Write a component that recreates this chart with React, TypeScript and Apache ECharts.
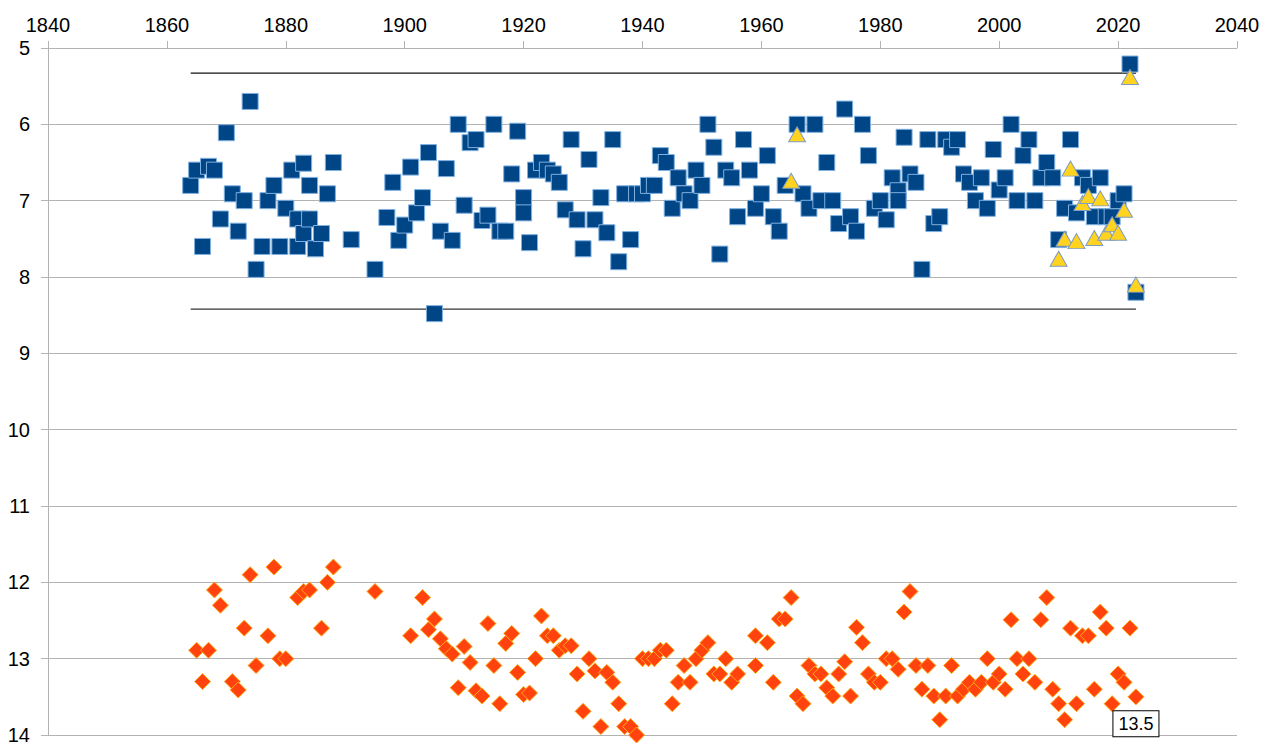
import React, { useEffect, useRef } from "react";
import * as echarts from "echarts";

// Axis ticks
const xMin = 1840;
const xMax = 2040;
const xStep = 20;
const yMin = 5;
const yMax = 14;
const yStep = 1;

// Blue squares
const blueYears = [
  1864, 1865, 1866, 1867, 1868, 1869, 1870, 1871, 1872, 1873, 1874, 1875, 1876, 1877, 1878, 1879,
  1880, 1881, 1882, 1882, 1883, 1883, 1884, 1884, 1885, 1886, 1887, 1888, 1891, 1895, 1897, 1898,
  1899, 1900, 1901, 1902, 1903, 1904, 1905, 1906, 1907, 1908, 1909, 1910, 1911, 1912, 1913, 1914,
  1915, 1916, 1917, 1918, 1919, 1920, 1920, 1921, 1922, 1923, 1924, 1925, 1926, 1927, 1928, 1929,
  1930, 1931, 1932, 1933, 1934, 1935, 1936, 1937, 1938, 1939, 1940, 1941, 1942, 1943, 1944, 1945,
  1946, 1947, 1948, 1949, 1950, 1951, 1952, 1953, 1954, 1955, 1956, 1957, 1958, 1959, 1960, 1961,
  1962, 1963, 1964, 1966, 1967, 1968, 1969, 1970, 1971, 1972, 1973, 1974, 1975, 1976, 1977, 1978,
  1979, 1980, 1981, 1982, 1983, 1983, 1984, 1985, 1986, 1987, 1988, 1989, 1990, 1991, 1992, 1993,
  1994, 1995, 1996, 1997, 1998, 1999, 2000, 2001, 2002, 2003, 2004, 2005, 2006, 2007, 2008, 2009,
  2010, 2011, 2012, 2013, 2014, 2015, 2016, 2017, 2018, 2019, 2020, 2021, 2022, 2023,
];
const blueValues = [
  6.8, 6.6, 7.6, 6.55, 6.6, 7.24, 6.11, 6.91, 7.4, 7.0, 5.7, 7.9, 7.6, 7.0, 6.8, 7.6,
  7.1, 6.6, 7.24, 7.6, 6.51, 7.43, 6.8, 7.24, 7.63, 7.43, 6.91, 6.5, 7.51, 7.9, 7.22, 6.76,
  7.52, 7.32, 6.56, 7.16, 6.96, 6.37, 8.48, 7.4, 6.58, 7.52, 6.0, 7.06, 6.24, 6.2, 7.26, 7.19,
  6.0, 7.4, 7.4, 6.65, 6.09, 6.96, 7.16, 7.55, 6.6, 6.5, 6.6, 6.65, 6.76, 7.12, 6.2, 7.25,
  7.63, 6.46, 7.25, 6.96, 7.42, 6.2, 7.8, 6.91, 7.51, 6.91, 6.91, 6.8, 6.8, 6.41, 6.5, 7.1,
  6.7, 6.91, 7.0, 6.6, 6.8, 6.0, 6.3, 7.7, 6.6, 6.7, 7.21, 6.2, 6.6, 7.1, 6.91, 6.41,
  7.21, 7.4, 6.8, 6.0, 6.91, 7.1, 6.0, 7.0, 6.5, 7.0, 7.3, 5.8, 7.21, 7.4, 6.0, 6.41,
  7.1, 7.0, 7.25, 6.7, 6.87, 7.0, 6.17, 6.65, 6.76, 7.9, 6.2, 7.3, 7.21, 6.2, 6.3, 6.2,
  6.65, 6.76, 7.0, 6.7, 7.1, 6.33, 6.86, 6.7, 6.0, 7.0, 6.41, 6.2, 7.0, 6.7, 6.5, 6.7,
  7.51, 7.1, 6.2, 7.16, 6.7, 6.8, 7.21, 6.7, 7.21, 7.21, 7.0, 6.91, 5.21, 8.2,
];

// Orange diamonds
const orangeYears = [
  1865, 1866, 1867, 1868, 1869, 1871, 1872, 1873, 1874, 1875, 1877, 1878, 1879, 1880, 1882, 1883,
  1884, 1886, 1887, 1888, 1895, 1901, 1903, 1904, 1905, 1906, 1907, 1908, 1909, 1910, 1911, 1912,
  1913, 1914, 1915, 1916, 1917, 1918, 1919, 1920, 1921, 1922, 1923, 1924, 1925, 1926, 1927, 1928,
  1929, 1930, 1931, 1932, 1933, 1934, 1935, 1936, 1937, 1938, 1939, 1940, 1941, 1942, 1943, 1944,
  1945, 1946, 1947, 1948, 1949, 1950, 1951, 1952, 1953, 1954, 1955, 1956, 1959, 1959, 1961, 1962,
  1963, 1964, 1965, 1966, 1967, 1968, 1969, 1970, 1971, 1972, 1973, 1974, 1975, 1976, 1977, 1978,
  1979, 1980, 1981, 1982, 1983, 1984, 1985, 1986, 1987, 1988, 1989, 1990, 1991, 1992, 1993, 1994,
  1995, 1996, 1997, 1998, 1999, 2000, 2001, 2002, 2003, 2004, 2005, 2006, 2007, 2008, 2009, 2010,
  2011, 2012, 2013, 2014, 2015, 2016, 2017, 2018, 2019, 2020, 2021, 2022, 2023,
];
const orangeValues = [
  12.89, 13.3, 12.89, 12.1, 12.3, 13.3, 13.41, 12.6, 11.9, 13.09, 12.7, 11.8, 13.0, 13.0, 12.2, 12.12,
  12.1, 12.6, 12.0, 11.8, 12.12, 12.7, 12.2, 12.62, 12.48, 12.74, 12.87, 12.94, 13.38, 12.84, 13.05, 13.42,
  13.49, 12.54, 13.09, 13.59, 12.8, 12.67, 13.18, 13.47, 13.45, 13.0, 12.44, 12.7, 12.7, 12.89, 12.83, 12.83,
  13.2, 13.69, 13.0, 13.16, 13.89, 13.18, 13.31, 13.59, 13.89, 13.89, 14.0, 13.0, 13.0, 13.0, 12.89, 12.89,
  13.59, 13.31, 13.09, 13.31, 13.0, 12.89, 12.79, 13.2, 13.2, 13.0, 13.31, 13.2, 12.7, 13.09, 12.79, 13.31,
  12.48, 12.48, 12.2, 13.49, 13.59, 13.09, 13.2, 13.2, 13.38, 13.49, 13.2, 13.04, 13.49, 12.59, 12.79, 13.2,
  13.31, 13.31, 13.0, 13.0, 13.14, 12.39, 12.12, 13.09, 13.4, 13.09, 13.49, 13.8, 13.49, 13.09, 13.49, 13.4,
  13.31, 13.4, 13.31, 13.0, 13.31, 13.2, 13.4, 12.49, 13.0, 13.2, 13.0, 13.31, 12.49, 12.2, 13.4, 13.59,
  13.8, 12.6, 13.59, 12.7, 12.7, 13.4, 12.39, 12.6, 13.59, 13.2, 13.31, 12.6, 13.5,
];

// Yellow triangles
const triYears = [1965, 1966, 2010, 2011, 2012, 2013, 2014, 2015, 2016, 2017, 2018, 2019, 2020, 2021, 2022, 2023];
const triValues = [6.74, 6.13, 7.76, 7.5, 6.58, 7.53, 7.03, 6.94, 7.49, 6.97, 7.42, 7.31, 7.42, 7.12, 5.38, 8.1];

// Reference lines
const refLineYears = [1864, 2023];
const upperLimit = 5.33;
const lowerLimit = 8.42;

// Labelled point
const labelledYear = 2023;

const FONT = "'Liberation Sans', Arial, sans-serif";

export default function App() {
  const ref = useRef<HTMLDivElement>(null);

  useEffect(() => {
    if (!ref.current) return;
    const chart = echarts.init(ref.current, null, { renderer: "svg" });

    const blueData = blueYears.map((y, i) => [y, blueValues[i]]);
    const triData = triYears.map((y, i) => [y, triValues[i]]);
    const orangeData = orangeYears.map((y, i) => {
      if (y === labelledYear) {
        return {
          value: [y, orangeValues[i]],
          label: {
            show: true,
            position: "bottom",
            distance: 6,
            formatter: String(orangeValues[i]),
            fontFamily: FONT,
            fontSize: 18,
            color: "#000",
            backgroundColor: "#fff",
            borderColor: "#000",
            borderWidth: 1,
            padding: [4, 5, 3, 5],
          },
        };
      }
      return [y, orangeValues[i]];
    });

    chart.setOption({
      animation: false,
      backgroundColor: "#fff",
      grid: { left: 48, right: 32, top: 48, bottom: 10, containLabel: false },
      xAxis: {
        type: "value",
        position: "top",
        min: xMin,
        max: xMax,
        interval: xStep,
        axisLine: { show: true, lineStyle: { color: "#b3b3b3", width: 1 } },
        axisTick: { show: true, inside: false, length: 7, lineStyle: { color: "#b3b3b3" } },
        axisLabel: {
          color: "#000",
          fontSize: 20,
          fontFamily: FONT,
          margin: 13,
          formatter: (v: number) => String(v),
        },
        splitLine: { show: false },
      },
      yAxis: {
        type: "value",
        inverse: true,
        min: yMin,
        max: yMax,
        interval: yStep,
        axisLine: { show: true, lineStyle: { color: "#b3b3b3", width: 1 } },
        axisTick: { show: true, inside: false, length: 7, lineStyle: { color: "#b3b3b3" } },
        axisLabel: {
          color: "#000",
          fontSize: 20,
          fontFamily: FONT,
          margin: 18,
          formatter: (v: number) => String(v),
        },
        splitLine: { show: true, lineStyle: { color: "#b3b3b3", width: 1 } },
      },
      series: [
        {
          type: "line",
          data: refLineYears.map((y) => [y, upperLimit]),
          symbol: "none",
          lineStyle: { color: "#111", width: 1.3 },
          z: 1,
          silent: true,
        },
        {
          type: "line",
          data: refLineYears.map((y) => [y, lowerLimit]),
          symbol: "none",
          lineStyle: { color: "#333", width: 1.3 },
          z: 1,
          silent: true,
        },
        {
          type: "scatter",
          data: blueData,
          symbol: "rect",
          symbolSize: 16,
          itemStyle: { color: "#004586", borderColor: "#7fb0e0", borderWidth: 1, opacity: 1 },
          z: 2,
        },
        {
          type: "scatter",
          data: orangeData,
          symbol: "diamond",
          symbolSize: 16,
          itemStyle: { color: "#ff420e", borderColor: "#ffaa1a", borderWidth: 1, opacity: 1 },
          z: 3,
        },
        {
          type: "scatter",
          data: triData,
          symbol: "triangle",
          symbolSize: [17, 15],
          itemStyle: { color: "#ffd320", borderColor: "#7f9cc4", borderWidth: 1, opacity: 1 },
          z: 4,
        },
      ],
    });

    return () => chart.dispose();
  }, []);

  return (
    <div
      ref={ref}
      style={{ position: "fixed", left: 0, top: 0, width: 1269, height: 745, background: "#fff" }}
    />
  );
}
